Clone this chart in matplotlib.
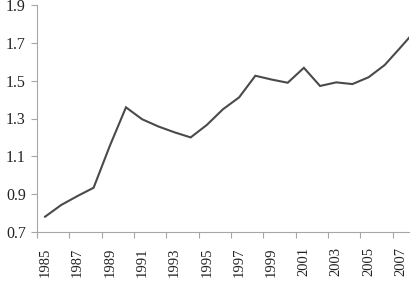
import numpy as np
import matplotlib
matplotlib.use("Agg")
import matplotlib.pyplot as plt

# 数据
years = list(range(1985, 2009))
values = [0.781, 0.843, 0.890, 0.934, 1.155, 1.359, 1.296, 1.258, 1.227, 1.200,
          1.266, 1.349, 1.412, 1.526, 1.506, 1.489, 1.568, 1.472, 1.491, 1.482,
          1.518, 1.583, 1.678, 1.775]
label_years = list(range(1985, 2009, 2))
y_ticks = [0.7, 0.9, 1.1, 1.3, 1.5, 1.7, 1.9]

plt.rcParams['font.family'] = ['Liberation Serif', 'DejaVu Serif']

fig = plt.figure(figsize=(4.2, 2.82), dpi=100)
ax = fig.add_axes([37 / 420, (282 - 232) / 282, (409 - 37) / 420, (232 - 5) / 282])

ax.plot(years, values, color='#4a4a4a', linewidth=1.5, solid_joinstyle='miter')

ax.set_xlim(1984.5, 2007.5)
ax.set_ylim(0.7, 1.9)

ax.set_yticks(y_ticks)
ax.set_yticklabels([f'{v:.1f}' for v in y_ticks])

# 年份标签在类别中心，刻度线在类别之间（每隔两个）
ax.set_xticks(label_years)
ax.set_xticklabels([str(y) for y in label_years], rotation=90)
ax.set_xticks(np.arange(1984.5, 2008, 2), minor=True)
ax.tick_params(axis='x', which='major', length=0, pad=11, labelsize=10.5, colors='#222222')
ax.tick_params(axis='x', which='minor', length=4, width=0.8, color='#a6a6a6', direction='out')
ax.tick_params(axis='y', length=4, width=0.8, color='#a6a6a6', pad=4, labelsize=11.5,
               labelcolor='#222222')

for side in ['top', 'right']:
    ax.spines[side].set_visible(False)
for side in ['left', 'bottom']:
    ax.spines[side].set_color('#a6a6a6')
    ax.spines[side].set_linewidth(0.8)

fig.savefig('out.png', dpi=100)
